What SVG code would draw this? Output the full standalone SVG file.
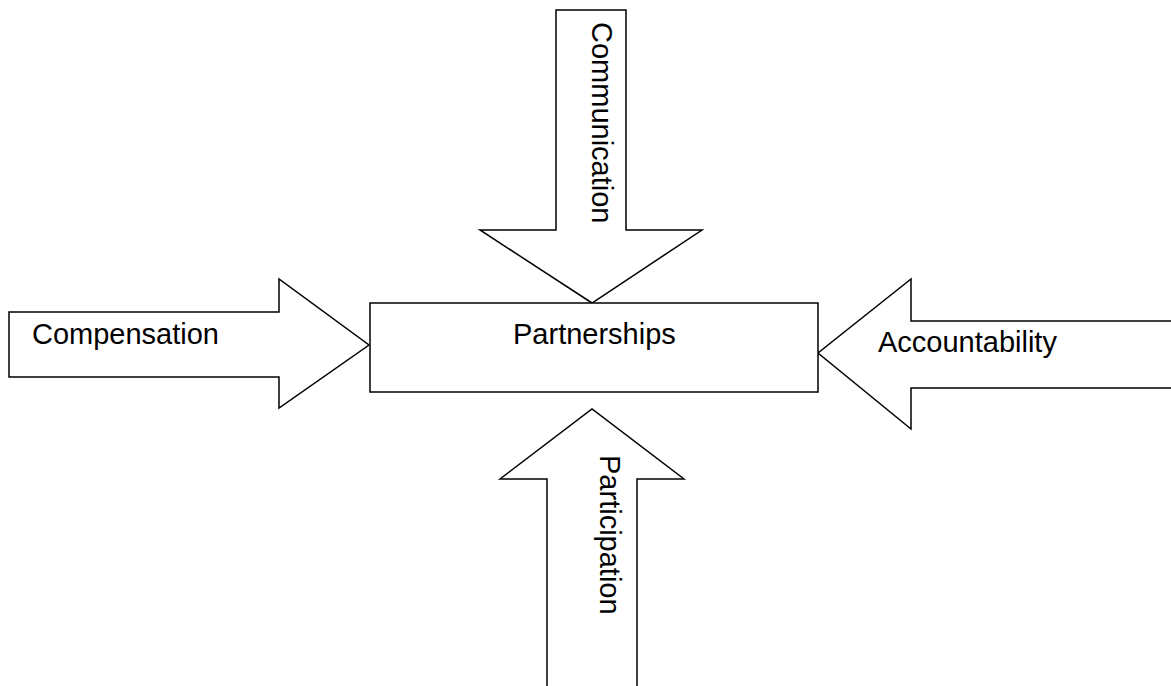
<svg xmlns="http://www.w3.org/2000/svg" width="1171" height="686" viewBox="0 0 1171 686">
<style>
.s{fill:#fff;stroke:#000;stroke-width:1.5;stroke-linejoin:miter}
.t{font-family:"Liberation Sans",Arial,sans-serif;font-size:29px;fill:#000}
</style>
<rect width="1171" height="686" fill="#fff"/>
<g id="connectors">
<g id="arrow-communication">
<polygon class="s" points="556,10 626,10 626,230 702,230 592,303 480,230 556,230"/>
<text class="t" transform="translate(592,22) rotate(90)">Communication</text>
</g>
<g id="arrow-compensation">
<polygon class="s" points="9,312 279,312 279,279 369,345 279,408 279,377 9,377"/>
<text class="t" x="32" y="344">Compensation</text>
</g>
<g id="arrow-accountability">
<polygon class="s" points="1173,321 911,321 911,279 818,353 911,429 911,388 1173,388"/>
<text class="t" x="878" y="352">Accountability</text>
</g>
<g id="arrow-participation">
<polygon class="s" points="547,688 547,479 500,479 592,409 684,479 637,479 637,688"/>
<text class="t" transform="translate(600,455) rotate(90)">Participation</text>
</g>
</g>
<g id="node-partnerships">
<rect class="s" x="370" y="303" width="448" height="89"/>
<text class="t" x="513" y="344">Partnerships</text>
</g>
</svg>
